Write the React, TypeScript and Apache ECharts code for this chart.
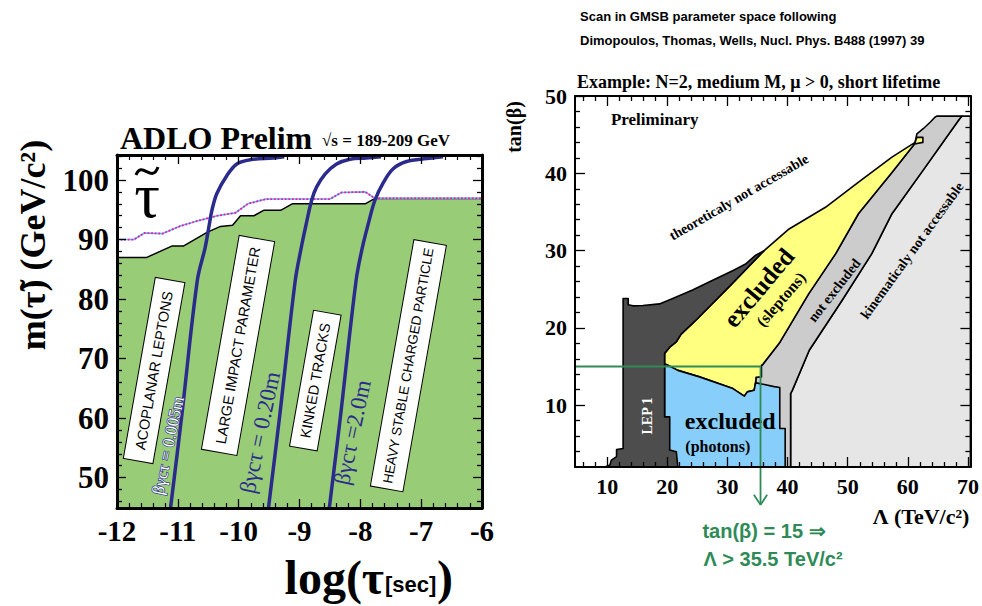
import React, { useEffect, useRef } from "react";
import * as echarts from "echarts";

// ---------------- Left panel data: m(stau) vs log(tau [sec]) ----------------
const stauObservedLimit: number[][] = [
  [-12, 87.0], [-11.51, 87.0], [-11.1, 88.9], [-10.91, 88.9], [-10.52, 91.2], [-10.3, 92.2],
  [-10.1, 92.4], [-9.97, 94.0], [-9.75, 94.0], [-9.59, 94.9], [-9.31, 94.9], [-9.12, 96.0],
  [-7.92, 96.0], [-7.76, 96.9], [-6, 96.9],
];
const stauExpectedLimit: number[][] = [
  [-12, 90.0], [-11.72, 90.0], [-11.55, 91.1], [-11.25, 91.0], [-10.95, 92.3], [-10.65, 93.2],
  [-10.35, 94.0], [-10.05, 94.5], [-9.85, 96.0], [-9.55, 96.8], [-8.5, 96.8], [-8.31, 97.9],
  [-7.92, 98.0], [-7.76, 96.9], [-6, 96.9],
];
const decayLength0005m: number[][] = [
  [-11.12, 44.9], [-10.94, 60], [-10.68, 83.1], [-10.55, 88.7], [-10.49, 92.1], [-10.44, 94.9],
  [-10.36, 97.7], [-10.19, 100.8], [-10.03, 102.7], [-9.81, 103.4], [-9.43, 103.7], [-9.25, 103.9],
];
const decayLength020m: number[][] = [
  [-9.51, 44.9], [-9.33, 60], [-9.07, 83.1], [-8.97, 88.7], [-8.89, 92.6], [-8.8, 96.6],
  [-8.72, 98.8], [-8.58, 101.0], [-8.39, 102.7], [-8.17, 103.5], [-7.9, 103.7], [-7.66, 103.9],
];
const decayLength2m: number[][] = [
  [-8.51, 44.9], [-8.33, 60], [-8.07, 83.1], [-7.97, 88.5], [-7.86, 93.0], [-7.76, 96.6],
  [-7.62, 99.6], [-7.46, 101.9], [-7.24, 103.1], [-6.91, 103.6], [-6.64, 103.9],
];
const leftYMajor = [50, 60, 70, 80, 90, 100];
const leftYMinor = [46, 48, 52, 54, 56, 58, 62, 64, 66, 68, 72, 74, 76, 78, 82, 84, 86, 88, 92, 94, 96, 98, 102, 104];
const searchLabels = ["ACOPLANAR LEPTONS", "LARGE IMPACT PARAMETER", "KINKED TRACKS", "HEAVY STABLE CHARGED PARTICLE"];
const decayLabels = ["βγcτ = 0.005m", "βγcτ = 0.20m", "βγcτ =2.0m"];

// ---------------- Right panel data: tan(beta) vs Lambda ----------------
const kinematicRegion: number[][] = [
  [40.5, 2.0], [40.5, 11.5], [40.8, 11.94], [43.6, 17.1], [49.1, 23.6], [54.0, 29.6], [57.35, 34.77],
  [62.9, 40.8], [68.55, 47.0], [69.0, 47.4], [70.4, 47.4], [70.4, 2.0],
];
const notExcludedRegion: number[][] = [
  [34.7, 2.0], [34.7, 15.2], [35.8, 15.2], [38.6, 18.0], [43.5, 24.4], [48.0, 29.6], [51.8, 34.8],
  [57.35, 40.1], [61.1, 43.8], [61.2, 44.0], [61.5, 45.1], [62.6, 45.8], [63.7, 46.6], [64.5, 47.25],
  [64.8, 47.4], [69.0, 47.4], [68.55, 47.0], [62.9, 40.8], [57.35, 34.77], [54.0, 29.6], [49.1, 23.6],
  [43.6, 17.1], [40.8, 11.94], [40.5, 11.5], [40.5, 2.0],
];
const sleptonRegion: number[][] = [
  [19.55, 16.7], [20.4, 17.5], [21.5, 18.2], [22.3, 19.2], [24.5, 20.8], [30.5, 25.5], [36.1, 30.0],
  [40.25, 32.8], [46.3, 35.6], [51.8, 38.85], [57.35, 42.1], [61.2, 44.0], [61.5, 44.65], [62.5, 44.65],
  [62.5, 44.0], [61.1, 43.8], [57.35, 40.1], [51.8, 34.8], [48.0, 29.6], [43.5, 24.4], [38.6, 18.0],
  [35.8, 15.2], [35.66, 15.2], [35.66, 13.66], [34.75, 13.6], [34.7, 13.0], [34.45, 11.94], [33.3, 11.72],
  [32.8, 11.16], [30.9, 12.15], [25.35, 13.66], [21.75, 14.5], [19.83, 15.26], [19.55, 15.3],
];
const photonRegion: number[][] = [
  [19.55, 15.3], [19.83, 15.26], [21.75, 14.5], [25.35, 13.66], [30.9, 12.15], [32.8, 11.16],
  [33.3, 11.72], [34.45, 11.94], [34.7, 13.0], [34.75, 12.88], [35.66, 12.75], [37.77, 12.4],
  [38.7, 12.28], [38.7, 6.99], [39.6, 6.99], [39.6, 2.0], [19.55, 2.0],
];
const lep1Region: number[][] = [
  [9.6, 2.0], [10.45, 2.25], [10.7, 2.9], [11.56, 3.35], [11.56, 4.27], [12.65, 4.4], [12.65, 23.8],
  [13.5, 23.8], [13.5, 23.0], [14.3, 22.85], [15.96, 22.9], [18.7, 23.1], [20.9, 23.8], [24.2, 24.9],
  [27.55, 26.15], [30.86, 27.4], [33.1, 28.3], [34.7, 29.4], [36.1, 30.0], [30.5, 25.5], [24.5, 20.8],
  [22.3, 19.2], [21.5, 18.2], [20.4, 17.5], [19.55, 16.7], [19.55, 8.49], [20.4, 8.49], [20.4, 4.19],
  [21.5, 3.97], [21.75, 2.0],
];
const tanBeta15Line: number[][] = [[4.65, 15], [35.5, 15], [35.5, -2.9]];
const arrowHead: number[][] = [[34.4, -1.6], [35.5, -2.9], [36.6, -1.6]];
const rightXMajor = [10, 20, 30, 40, 50, 60, 70];
const rightXMinor = [6, 8, 12, 14, 16, 18, 22, 24, 26, 28, 32, 34, 36, 38, 42, 44, 46, 48, 52, 54, 56, 58, 62, 64, 66, 68];
const rightYMajor = [10, 20, 30, 40, 50];
const rightYMinor = [4, 6, 8, 12, 14, 16, 18, 22, 24, 26, 28, 32, 34, 36, 38, 42, 44, 46, 48];

const SERIF = "'Liberation Serif','Times New Roman',serif";
const SANS = "'Liberation Sans',Arial,Helvetica,sans-serif";
const NAVY = "#2b2b8e";
const GREEN = "#2e8b57";

function buildOption(): any {
  const line = (w: number) => ({ show: true, onZero: false, lineStyle: { color: "#000", width: w } });
  const none = { show: false };
  const tick = (len: number, custom?: number[]) => ({
    show: true, inside: true, length: len, lineStyle: { color: "#000", width: 1.3 },
    ...(custom ? { customValues: custom } : {}),
  });
  const lbl = (size: number, custom?: number[]) => ({
    show: true, color: "#000", fontFamily: SERIF, fontWeight: "bold", fontSize: size, margin: 8,
    ...(custom ? { customValues: custom } : {}),
  });
  const base = { type: "value", z: 10, splitLine: none, minorSplitLine: none };

  const xAxis = [
    { ...base, gridIndex: 0, position: "bottom", min: -12, max: -6, interval: 1, axisLine: line(3),
      axisTick: tick(9), minorTick: { show: true, splitNumber: 5, length: 5, lineStyle: { color: "#000", width: 1.2 } },
      axisLabel: lbl(29) },
    { ...base, gridIndex: 0, position: "top", min: -12, max: -6, interval: 1, axisLine: line(3),
      axisTick: tick(9), minorTick: { show: true, splitNumber: 5, length: 5, lineStyle: { color: "#000", width: 1.2 } },
      axisLabel: none },
    { ...base, gridIndex: 1, position: "bottom", min: 4.65, max: 70.4, axisLine: line(2),
      axisTick: tick(10, rightXMajor), axisLabel: lbl(22, rightXMajor) },
    { ...base, gridIndex: 1, position: "bottom", min: 4.65, max: 70.4, axisLine: none,
      axisTick: tick(5, rightXMinor), axisLabel: none },
    { ...base, gridIndex: 1, position: "top", min: 4.65, max: 70.4, axisLine: line(2),
      axisTick: tick(10, rightXMajor), axisLabel: none },
    { ...base, gridIndex: 1, position: "top", min: 4.65, max: 70.4, axisLine: none,
      axisTick: tick(5, rightXMinor), axisLabel: none },
  ];
  const yAxis = [
    { ...base, gridIndex: 0, position: "left", min: 44.9, max: 104.2, axisLine: line(3),
      axisTick: tick(9, leftYMajor), axisLabel: lbl(31, leftYMajor) },
    { ...base, gridIndex: 0, position: "left", min: 44.9, max: 104.2, axisLine: none,
      axisTick: tick(5, leftYMinor), axisLabel: none },
    { ...base, gridIndex: 0, position: "right", min: 44.9, max: 104.2, axisLine: line(3),
      axisTick: tick(9, leftYMajor), axisLabel: none },
    { ...base, gridIndex: 0, position: "right", min: 44.9, max: 104.2, axisLine: none,
      axisTick: tick(5, leftYMinor), axisLabel: none },
    { ...base, gridIndex: 1, position: "left", min: 2, max: 50, axisLine: line(2),
      axisTick: tick(10, rightYMajor), axisLabel: lbl(22, rightYMajor) },
    { ...base, gridIndex: 1, position: "left", min: 2, max: 50, axisLine: none,
      axisTick: tick(5, rightYMinor), axisLabel: none },
    { ...base, gridIndex: 1, position: "right", min: 2, max: 50, axisLine: line(2),
      axisTick: tick(10, rightYMajor), axisLabel: none },
    { ...base, gridIndex: 1, position: "right", min: 2, max: 50, axisLine: none,
      axisTick: tick(5, rightYMinor), axisLabel: none },
  ];

  const L = { xAxisIndex: 0, yAxisIndex: 0 };
  const R = { xAxisIndex: 2, yAxisIndex: 4 };

  const curve = (data: number[][]) => ({
    type: "line", ...L, data, symbol: "none", smooth: 0.35, silent: true, z: 4,
    lineStyle: { color: NAVY, width: 3.5 },
  });

  const region = (pts: number[][], fill: string) => ({
    type: "custom", ...R, data: pts, silent: true, z: 2, encode: { x: 0, y: 1 },
    renderItem: (params: any, api: any) => {
      if (params.dataIndex !== 0) return null;
      return {
        type: "polygon",
        shape: { points: pts.map((p) => api.coord(p)) },
        style: { fill, stroke: "#000", lineWidth: 1.6, lineJoin: "round" },
      };
    },
  });

  const ann = (x: number, y: number, text: string, label: any) => ({
    value: [x, y],
    label: { show: true, position: "inside", formatter: text, opacity: 1, ...label },
  });
  const boxStyle = (size: number, pad: number[]) => ({
    rotate: 80, fontFamily: SANS, fontSize: size, color: "#000", backgroundColor: "#ffffff",
    borderColor: "#000", borderWidth: 1, padding: pad,
  });
  const decayStyle = (size: number, light: boolean) => ({
    rotate: 78, fontFamily: SERIF, fontSize: size, color: light ? "#ffffff" : NAVY,
    textBorderColor: light ? NAVY : "transparent", textBorderWidth: light ? 1.3 : 0,
  });
  const rt = (size: number, rot: number, extra: any = {}) => ({
    rotate: rot, fontFamily: SERIF, fontWeight: "bold", fontSize: size, color: "#000", ...extra,
  });

  const annotations = (axes: any, data: any[]) => ({
    type: "scatter", ...axes, symbolSize: 1, silent: true, z: 6,
    itemStyle: { color: "transparent", opacity: 1 }, data,
  });

  const series: any[] = [
    // left panel
    { type: "line", ...L, data: stauObservedLimit, symbol: "none", silent: true, z: 2,
      lineStyle: { color: "#000", width: 1.5 }, areaStyle: { color: "#99cc77", opacity: 1, origin: "start" } },
    { type: "line", ...L, data: stauExpectedLimit, symbol: "none", silent: true, z: 3,
      lineStyle: { color: "#55c0f0", width: 1.6 } },
    { type: "line", ...L, data: stauExpectedLimit, symbol: "none", silent: true, z: 3,
      lineStyle: { color: "#ff10b0", width: 1.8, type: [1.8, 1.8] } },
    curve(decayLength0005m),
    curve(decayLength020m),
    curve(decayLength2m),
    annotations(L, [
      ann(-11.39, 68.0, searchLabels[0], boxStyle(14.5, [7, 11])),
      ann(-10.01, 72.2, searchLabels[1], boxStyle(14.5, [10, 8])),
      ann(-8.74, 66.3, searchLabels[2], boxStyle(14.5, [6, 10])),
      ann(-7.21, 68.8, searchLabels[3], boxStyle(13.5, [9, 5])),
      ann(-11.16, 55.4, decayLabels[0], decayStyle(17, true)),
      ann(-9.65, 57.6, decayLabels[1], decayStyle(23, false)),
      ann(-8.13, 57.6, decayLabels[2], decayStyle(23, false)),
    ]),
    // right panel
    region(kinematicRegion, "#e6e6e6"),
    region(notExcludedRegion, "#cccccc"),
    region(sleptonRegion, "#ffff80"),
    region(photonRegion, "#87cefa"),
    region(lep1Region, "#4d4d4d"),
    { type: "line", ...R, data: tanBeta15Line, symbol: "none", silent: true, clip: false, z: 7,
      lineStyle: { color: GREEN, width: 1.8 } },
    { type: "line", ...R, data: arrowHead, symbol: "none", silent: true, clip: false, z: 7,
      lineStyle: { color: GREEN, width: 1.8 } },
    annotations(R, [
      ann(17.9, 46.9, "Preliminary", rt(17, 0)),
      ann(31.9, 36.9, "theoreticaly not accessable", rt(14, 30)),
      ann(60.7, 30.0, "kinematicaly not accessable", rt(14, 54)),
      ann(47.8, 24.85, "not excluded", rt(14, 52)),
      ann(35.2, 25.2, "excluded", rt(25, 50)),
      ann(38.9, 23.7, "(sleptons)", rt(16, 49)),
      ann(30.45, 7.93, "excluded", rt(24, 0)),
      ann(28.4, 4.7, "(photons)", rt(16, 0)),
      ann(16.7, 8.6, "LEP 1", rt(14, 90, { color: "#ffffff" })),
    ]),
  ];

  const txt = (x: number, y: number, text: string, size: number, opts: any = {}) => ({
    type: "text", x, y, rotation: opts.rotation || 0, z: 20, silent: true,
    style: {
      text, fill: opts.fill || "#000", fontFamily: opts.family || SERIF, fontWeight: opts.weight || "bold",
      fontSize: size, align: opts.align || "center", verticalAlign: "middle",
    },
  });

  const graphic = [
    txt(120, 138, "ADLO Prelim", 32, { align: "left" }),
    txt(322, 140, "√s = 189-209 GeV", 17, { align: "left" }),
    // tilde over the big tau, drawn as a stroke
    { type: "bezierCurve", z: 20, silent: true,
      shape: { x1: 136, y1: 175, cpx1: 142, cpy1: 160, cpx2: 152, cpy2: 184, x2: 158, y2: 167 },
      style: { stroke: "#000", lineWidth: 3, fill: "none" } },
    txt(147, 195, "τ", 64, { weight: "normal" }),
    txt(33, 245, "m(τ̃) (GeV/c²)", 36, { rotation: Math.PI / 2 }),
    txt(384, 577, "log(τ", 48, { align: "right" }),
    txt(385, 584, "[sec]", 22, { align: "left", family: SANS }),
    txt(437, 577, ")", 48, { align: "left" }),
    txt(580, 16, "Scan in GMSB parameter space following", 13, { align: "left", family: SANS }),
    txt(580, 40, "Dimopoulos, Thomas, Wells, Nucl. Phys. B488 (1997) 39", 13, { align: "left", family: SANS }),
    txt(577, 82, "Example: N=2, medium M, μ > 0, short lifetime", 18, { align: "left" }),
    txt(514, 127, "tan(β)", 20, { rotation: Math.PI / 2 }),
    txt(921, 516, "Λ (TeV/c²)", 22),
    txt(764, 531, "tan(β) = 15 ⇒", 20, { family: SANS, fill: GREEN }),
    txt(773, 559, "Λ > 35.5 TeV/c²", 20, { family: SANS, fill: GREEN }),
  ];

  return {
    animation: false,
    backgroundColor: "#ffffff",
    grid: [
      { left: 117, top: 155, width: 365, height: 353, show: false },
      { left: 575, top: 96, width: 397, height: 371, show: false },
    ],
    xAxis,
    yAxis,
    series,
    graphic,
  };
}

export default function App() {
  const ref = useRef<HTMLDivElement>(null);
  useEffect(() => {
    if (!ref.current) return;
    const chart = echarts.init(ref.current, null, { renderer: "svg" });
    chart.setOption(buildOption());
    return () => chart.dispose();
  }, []);
  return <div ref={ref} style={{ width: 982, height: 606, position: "absolute", left: 0, top: 0 }} />;
}
